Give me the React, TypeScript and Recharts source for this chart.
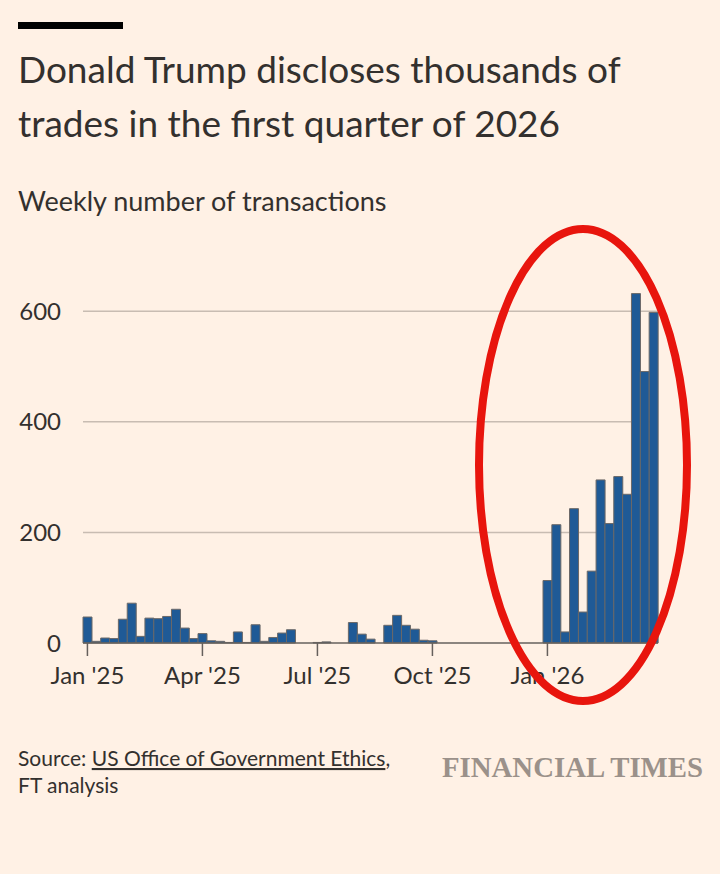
import React from "react";
import { BarChart, Bar, XAxis, YAxis, CartesianGrid } from "recharts";

const weeks: string[] = [
  "2024-12-30", "2025-01-06", "2025-01-13", "2025-01-20", "2025-01-27", "2025-02-03", "2025-02-10", "2025-02-17",
  "2025-02-24", "2025-03-03", "2025-03-10", "2025-03-17", "2025-03-24", "2025-03-31", "2025-04-07", "2025-04-14",
  "2025-04-21", "2025-04-28", "2025-05-05", "2025-05-12", "2025-05-19", "2025-05-26", "2025-06-02", "2025-06-09",
  "2025-06-16", "2025-06-23", "2025-06-30", "2025-07-07", "2025-07-14", "2025-07-21", "2025-07-28", "2025-08-04",
  "2025-08-11", "2025-08-18", "2025-08-25", "2025-09-01", "2025-09-08", "2025-09-15", "2025-09-22", "2025-09-29",
  "2025-10-06", "2025-10-13", "2025-10-20", "2025-10-27", "2025-11-03", "2025-11-10", "2025-11-17", "2025-11-24",
  "2025-12-01", "2025-12-08", "2025-12-15", "2025-12-22", "2025-12-29", "2026-01-05", "2026-01-12", "2026-01-19",
  "2026-01-26", "2026-02-02", "2026-02-09", "2026-02-16", "2026-02-23", "2026-03-02", "2026-03-09", "2026-03-16",
  "2026-03-23",
];

const transactions: number[] = [
  47, 3, 9, 8, 43, 72, 12, 45, 44, 48, 61, 27, 8, 17, 4, 3,
  1, 20, 1, 33, 3, 10, 18, 24, 0, 0, 1, 2, 0, 0, 37, 16,
  7, 0, 32, 50, 32, 25, 5, 4, 0, 0, 0, 0, 0, 0, 0, 0,
  0, 0, 0, 0, 113, 214, 20, 243, 56, 130, 295, 216, 301, 269, 632, 491,
  598,
];

const xTickWeeks: string[] = ["2024-12-30", "2025-03-31", "2025-06-30", "2025-09-29", "2025-12-29"];
const xTickLabels: string[] = ["Jan '25", "Apr '25", "Jul '25", "Oct '25", "Jan '26"];
const yTicks: number[] = [0, 200, 400, 600];
const gridValues: number[] = [200, 400, 600];

const data = weeks.map((w, i) => ({ week: w, value: transactions[i] }));

const FONT = "Lato, 'Open Sans', sans-serif";
const TEXT = "#33302e";
const BG = "#fff1e5";

export default function App() {
  return (
    <div style={{ position: "relative", width: 720, height: 874, background: BG, overflow: "hidden" }}>
      <style>{"body{margin:0;background:#fff1e5}"}</style>
      <div style={{ position: "absolute", left: 0, top: 0 }}>
        <BarChart
          width={720}
          height={720}
          data={data}
          margin={{ top: 256, right: 62, bottom: 37, left: 0 }}
          barCategoryGap={0}
          barGap={0}
        >
          <CartesianGrid vertical={false} horizontalValues={gridValues} stroke="#c8bcb2" strokeWidth={1.5} />
          <YAxis
            domain={[0, 700]}
            ticks={yTicks}
            axisLine={false}
            tickLine={false}
            tickSize={0}
            width={83}
            tickMargin={22}
            tick={{ fill: TEXT, fontSize: 24, fontFamily: FONT }}
          />
          <XAxis
            dataKey="week"
            ticks={xTickWeeks}
            interval={0}
            tickFormatter={(v: string) => xTickLabels[xTickWeeks.indexOf(v)]}
            axisLine={{ stroke: "#66605c", strokeWidth: 1.5 }}
            tickLine={{ stroke: "#66605c", strokeWidth: 1.5 }}
            tickSize={13}
            tickMargin={11}
            height={40}
            tick={{ fill: TEXT, fontSize: 24, fontFamily: FONT }}
          />
          <Bar dataKey="value" fill="#1f5a96" stroke="#6b6867" strokeWidth={1} isAnimationActive={false} />
        </BarChart>
      </div>
      <svg
        width={720}
        height={874}
        style={{ position: "absolute", left: 0, top: 0, pointerEvents: "none" }}
      >
        <rect x={18} y={22} width={105} height={7} fill="#000" />
        <text x={18} y={83} fontFamily={FONT} fontSize={37} fill={TEXT}>
          Donald Trump discloses thousands of
        </text>
        <text x={18} y={137} fontFamily={FONT} fontSize={37} fill={TEXT}>
          trades in the first quarter of 2026
        </text>
        <text x={18} y={211} fontFamily={FONT} fontSize={27} fill={TEXT}>
          Weekly number of transactions
        </text>
        <ellipse cx={583} cy={465} rx={104} ry={236} fill="none" stroke="#e8150d" strokeWidth={8} />
        <text x={18} y={766} fontFamily={FONT} fontSize={21} fill={TEXT}>
          Source:{" "}
          <tspan textDecoration="underline">US Office of Government Ethics</tspan>,
        </text>
        <text x={18} y={793} fontFamily={FONT} fontSize={21} fill={TEXT}>
          FT analysis
        </text>
        <text
          x={442}
          y={777}
          textLength={261}
          lengthAdjust="spacingAndGlyphs"
          fontFamily="'Liberation Serif', serif"
          fontWeight="bold"
          fontSize={30}
          fill="#9b918a"
        >
          FINANCIAL TIMES
        </text>
      </svg>
    </div>
  );
}
